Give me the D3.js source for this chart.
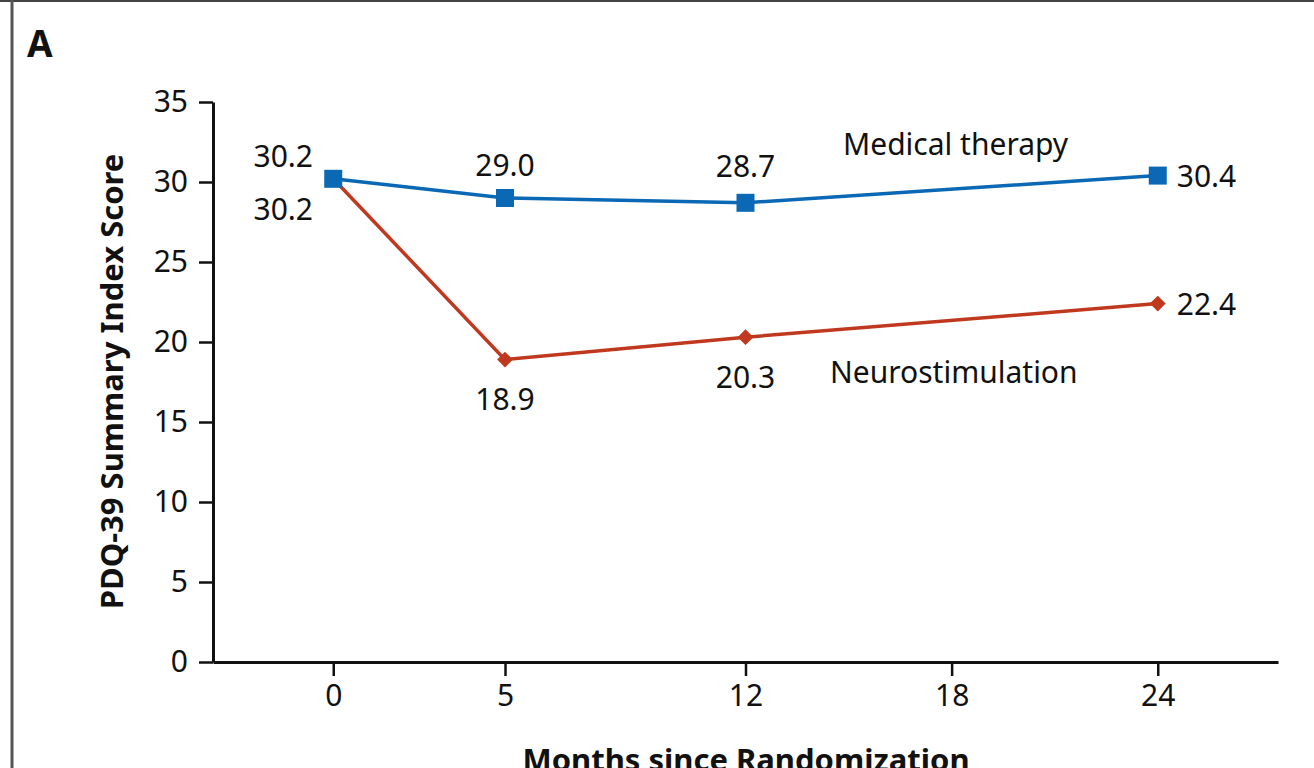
<!DOCTYPE html>
<html>
<head>
<meta charset="utf-8">
<script src="https://cdn.jsdelivr.net/npm/d3@7"></script>
<style>
  body { margin: 0; background: #fff; }
  svg { display: block; }
  text { font-family: "Noto Sans", "Open Sans", sans-serif; fill: #111; }
</style>
</head>
<body>
<div id="chart"></div>
<script>
const months = [0, 5, 12, 24];
const xTicks = [0, 5, 12, 18, 24];
const yTicks = [0, 5, 10, 15, 20, 25, 30, 35];
const medical = [30.2, 29.0, 28.7, 30.4];
const neuro = [30.2, 18.9, 20.3, 22.4];

const width = 1314, height = 768;
const blue = "#0a68b4", red = "#c0391f";

const svg = d3.select("#chart").append("svg")
    .attr("width", width)
    .attr("height", height);

// frame lines
svg.append("line").attr("x1", 0).attr("x2", width).attr("y1", 1).attr("y2", 1)
    .attr("stroke", "#444").attr("stroke-width", 2);
svg.append("line").attr("x1", 12).attr("x2", 12).attr("y1", 0).attr("y2", height)
    .attr("stroke", "#555").attr("stroke-width", 3);

svg.append("text").attr("x", 27).attr("y", 57)
    .attr("font-size", 37).attr("font-weight", "bold").text("A");

const x = d3.scaleLinear().domain([-3.5, 27.5]).range([213, 1278]);
const y = d3.scaleLinear().domain([0, 35]).range([662, 102]);

// y axis
const yAxis = svg.append("g")
    .attr("transform", `translate(${x(-3.5)},0)`)
    .call(d3.axisLeft(y).tickValues(yTicks).tickSize(14).tickPadding(11).tickSizeOuter(0));
yAxis.select(".domain").attr("stroke", "#111").attr("stroke-width", 3);
yAxis.selectAll(".tick line").attr("stroke", "#111").attr("stroke-width", 2.5);
yAxis.selectAll(".tick text").attr("font-size", 30).attr("fill", "#111")
    .attr("font-family", "Noto Sans");

// x axis
const xAxis = svg.append("g")
    .attr("transform", `translate(0,${y(0)})`)
    .call(d3.axisBottom(x).tickValues(xTicks).tickSize(14).tickPadding(9).tickSizeOuter(0));
xAxis.select(".domain").attr("stroke", "#111").attr("stroke-width", 3);
xAxis.selectAll(".tick line").attr("stroke", "#111").attr("stroke-width", 2.5);
xAxis.selectAll(".tick text").attr("font-size", 30).attr("fill", "#111")
    .attr("font-family", "Noto Sans");

// axis titles
svg.append("text")
    .attr("transform", `translate(123,${(148 + 615) / 2}) rotate(-90)`)
    .attr("text-anchor", "middle")
    .attr("font-size", 31).attr("font-weight", "bold")
    .text("PDQ-39 Summary Index Score");

svg.append("text")
    .attr("x", 746).attr("y", 771)
    .attr("text-anchor", "middle")
    .attr("font-size", 31).attr("font-weight", "bold")
    .text("Months since Randomization");

const line = d3.line().x(d => x(d[0])).y(d => y(d[1]));

// neurostimulation
svg.append("path")
    .datum(months.map((m, i) => [m, neuro[i]]))
    .attr("fill", "none").attr("stroke", red).attr("stroke-width", 3.5)
    .attr("d", line);
svg.selectAll(".diamond")
    .data(months.map((m, i) => [m, neuro[i]]))
    .enter().append("path")
    .attr("class", "diamond")
    .attr("d", d3.symbol().type(d3.symbolDiamond2).size(160))
    .attr("transform", d => `translate(${x(d[0])},${y(d[1])})`)
    .attr("fill", red);

// medical therapy
svg.append("path")
    .datum(months.map((m, i) => [m, medical[i]]))
    .attr("fill", "none").attr("stroke", blue).attr("stroke-width", 3.5)
    .attr("d", line);
svg.selectAll(".square")
    .data(months.map((m, i) => [m, medical[i]]))
    .enter().append("rect")
    .attr("class", "square")
    .attr("x", d => x(d[0]) - 9).attr("y", d => y(d[1]) - 9)
    .attr("width", 18).attr("height", 18)
    .attr("fill", blue);

// value labels: offsets relative to each point
const medOff = [[-50, -12, "middle"], [0, -22, "middle"], [0, -26, "middle"], [19, 11, "start"]];
const neuOff = [[-50, 41, "middle"], [0, 50, "middle"], [0, 51, "middle"], [19, 11, "start"]];

svg.selectAll(".medlab")
    .data(months.map((m, i) => [m, medical[i], medOff[i]]))
    .enter().append("text")
    .attr("x", d => x(d[0]) + d[2][0]).attr("y", d => y(d[1]) + d[2][1])
    .attr("text-anchor", d => d[2][2])
    .attr("font-size", 30)
    .text(d => d[1].toFixed(1));

svg.selectAll(".neulab")
    .data(months.map((m, i) => [m, neuro[i], neuOff[i]]))
    .enter().append("text")
    .attr("x", d => x(d[0]) + d[2][0]).attr("y", d => y(d[1]) + d[2][1])
    .attr("text-anchor", d => d[2][2])
    .attr("font-size", 30)
    .text(d => d[1].toFixed(1));

// series names
svg.append("text").attr("x", 843).attr("y", 155).attr("font-size", 30).text("Medical therapy");
svg.append("text").attr("x", 830).attr("y", 383).attr("font-size", 30).text("Neurostimulation");
</script>
</body>
</html>
